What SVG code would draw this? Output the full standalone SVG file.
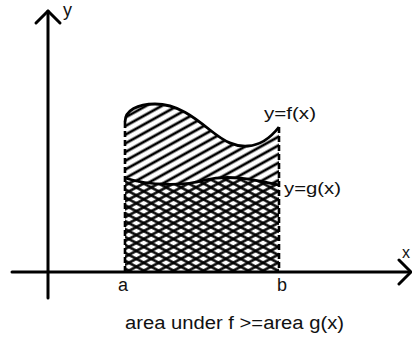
<svg xmlns="http://www.w3.org/2000/svg" width="412" height="339" viewBox="0 0 412 339">
<style>
  .ax{stroke:#000;stroke-width:3;fill:none;stroke-linecap:round;stroke-linejoin:round}
  .cv{stroke:#000;stroke-width:2.8;fill:none}
  .dash{stroke:#000;stroke-width:2.6;stroke-dasharray:6 3;fill:none}
  .t{font-family:"Liberation Sans",Arial,sans-serif;fill:#111}
</style>
<defs>
  <pattern id="hA" patternUnits="userSpaceOnUse" width="14" height="7.6" patternTransform="rotate(-29)">
    <line x1="-1" y1="3.8" x2="15" y2="3.8" stroke="#000" stroke-width="2.7"/>
  </pattern>
  <pattern id="hB" patternUnits="userSpaceOnUse" width="14" height="7" patternTransform="rotate(28)">
    <line x1="-1" y1="3.5" x2="15" y2="3.5" stroke="#000" stroke-width="2.5"/>
  </pattern>
  <pattern id="hC" patternUnits="userSpaceOnUse" width="14" height="7" patternTransform="rotate(-28) translate(0,2)">
    <line x1="-1" y1="3.5" x2="15" y2="3.5" stroke="#000" stroke-width="2.5"/>
  </pattern>
</defs>
<rect width="412" height="339" fill="#fff"/>
<g id="region">
  <path d="M125,122 C125,110 138,104 155,104 C178,104 195,118 210,130 C225,142 235,147 248,146 C262,145 272,136 279,127 L279,185 C255,180 230,174 205,180 C185,186 150,186 125,178 Z" fill="url(#hA)"/>
  <path d="M125,178 C150,186 185,186 205,180 C230,174 255,180 279,185 L279,272 L125,272 Z" fill="url(#hB)"/>
  <path d="M125,178 C150,186 185,186 205,180 C230,174 255,180 279,185 L279,272 L125,272 Z" fill="url(#hC)"/>
  <path class="cv" d="M125,122 C125,110 138,104 155,104 C178,104 195,118 210,130 C225,142 235,147 248,146 C262,145 272,136 279,127"/>
  <path class="cv" d="M125,178 C150,186 185,186 205,180 C230,174 255,180 279,185" stroke-width="2.2"/>
  <line class="dash" x1="125" y1="122" x2="125" y2="272"/>
  <line class="dash" x1="279" y1="127" x2="279" y2="272"/>
</g>
<g id="axes">
  <line class="ax" x1="48" y1="11" x2="48" y2="298"/>
  <polyline class="ax" points="36,23 48,11 60,23"/>
  <line class="ax" x1="12" y1="272" x2="410" y2="272"/>
  <polyline class="ax" points="399,260 411,272 399,284"/>
</g>
<g id="labels">
  <text class="t" x="63" y="16" font-size="18">y</text>
  <text class="t" x="402" y="258" font-size="16">x</text>
  <text class="t" x="264" y="119" font-size="17" textLength="52" lengthAdjust="spacingAndGlyphs">y=f(x)</text>
  <text class="t" x="284" y="194" font-size="17" textLength="57" lengthAdjust="spacingAndGlyphs">y=g(x)</text>
  <text class="t" x="118" y="291" font-size="18">a</text>
  <text class="t" x="277" y="291" font-size="18">b</text>
  <text class="t" x="125" y="329" font-size="18" textLength="219" lengthAdjust="spacingAndGlyphs">area under f &gt;=area g(x)</text>
</g>
</svg>
